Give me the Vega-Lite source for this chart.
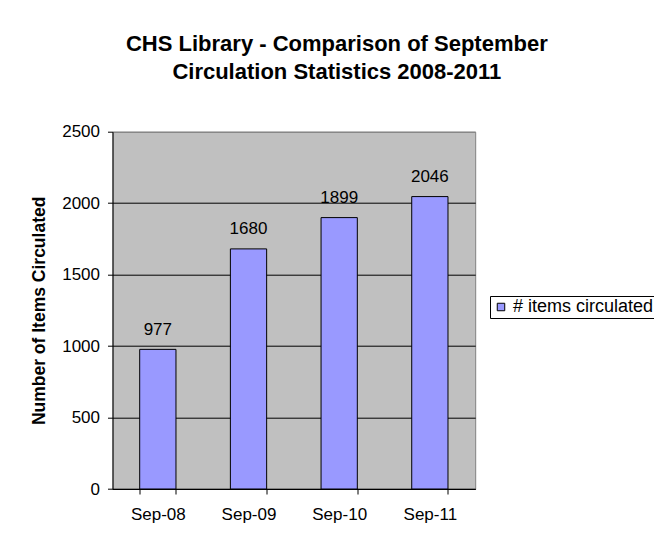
{
  "$schema": "https://vega.github.io/schema/vega-lite/v6.json",
  "width": 362.7,
  "height": 357.3,
  "autosize": "none",
  "padding": {"left": 112.5, "top": 131.7, "right": 178.8, "bottom": 53},
  "background": "white",
  "title": {
    "text": ["CHS Library - Comparison of September", "Circulation Statistics 2008-2011"],
    "font": "Liberation Sans",
    "fontSize": 22,
    "fontWeight": "bold",
    "color": "black",
    "anchor": "middle",
    "lineHeight": 28,
    "dx": 43,
    "offset": 39
  },
  "data": {
    "values": [
      {"month": "Sep-08", "items": 977, "series": "# items circulated"},
      {"month": "Sep-09", "items": 1680, "series": "# items circulated"},
      {"month": "Sep-10", "items": 1899, "series": "# items circulated"},
      {"month": "Sep-11", "items": 2046, "series": "# items circulated"}
    ]
  },
  "encoding": {
    "x": {
      "field": "month",
      "type": "nominal",
      "sort": null,
      "scale": {"paddingInner": 0.6, "paddingOuter": 0.3},
      "axis": {
        "title": null,
        "labelAngle": 0,
        "labelFont": "Liberation Sans",
        "labelFontSize": 17,
        "labelColor": "black",
        "labelPadding": 12,
        "tickBand": "extent",
        "tickSize": 5,
        "tickColor": "black",
        "domainColor": "black",
        "grid": false
      }
    },
    "y": {
      "field": "items",
      "type": "quantitative",
      "scale": {"domain": [0, 2500], "nice": false},
      "axis": {
        "title": "Number of Items Circulated",
        "titleFont": "Liberation Sans",
        "titleFontSize": 17.5,
        "titleFontWeight": "bold",
        "titleColor": "black",
        "titlePadding": 13,
        "values": [0, 500, 1000, 1500, 2000, 2500],
        "format": "d",
        "labelFont": "Liberation Sans",
        "labelFontSize": 17,
        "labelColor": "black",
        "labelPadding": 8,
        "tickSize": 5,
        "tickColor": "black",
        "domainColor": "black",
        "grid": true,
        "gridColor": {"condition": {"test": "datum.value === 2500", "value": "#808080"}, "value": "black"},
        "gridOpacity": 1,
        "gridWidth": 1
      }
    }
  },
  "layer": [
    {
      "mark": {"type": "bar", "stroke": "black", "strokeWidth": 1},
      "encoding": {
        "color": {
          "field": "series",
          "type": "nominal",
          "scale": {"range": ["#9999FF"]},
          "legend": {
            "title": null,
            "orient": "none",
            "legendX": 377.5,
            "legendY": 164.3,
            "strokeColor": "black",
            "fillColor": "white",
            "padding": 2,
            "symbolType": "square",
            "symbolSize": 56,
            "symbolStrokeColor": "black",
            "symbolStrokeWidth": 1,
            "symbolOpacity": 1,
            "labelFont": "Liberation Sans",
            "labelFontSize": 18,
            "labelColor": "black",
            "labelOffset": 3,
            "cornerRadius": 0
          }
        }
      }
    },
    {
      "mark": {"type": "text", "font": "Liberation Sans", "fontSize": 17, "color": "black", "baseline": "alphabetic", "dy": -14.5},
      "encoding": {"text": {"field": "items", "type": "quantitative"}}
    }
  ],
  "config": {
    "view": {"fill": "#C0C0C0", "stroke": "#808080", "strokeWidth": 1}
  }
}
